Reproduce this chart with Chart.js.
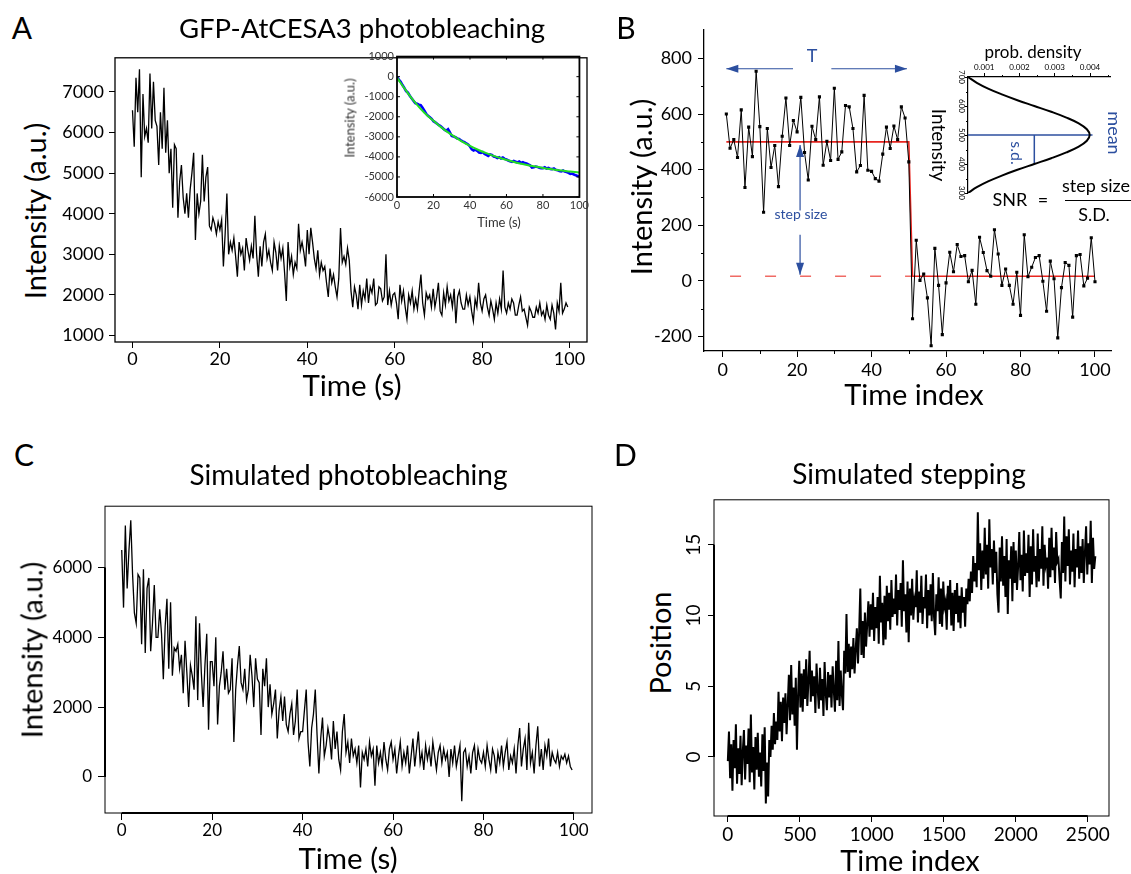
<!DOCTYPE html>
<html>
<head>
<meta charset="utf-8">
<script src="https://cdn.jsdelivr.net/npm/chart.js@4.4.1/dist/chart.umd.min.js"></script>
<style>
  body { margin: 0; background: #fff; }
  #fig { position: relative; width: 1131px; height: 874px; overflow: hidden; background: #fff; }
  canvas { position: absolute; }
  .t { position: absolute; white-space: nowrap; line-height: 1; transform: translate(-50%, -50%);
       font-family: Lato, "Open Sans", sans-serif; color: #000; }
  .up { transform: translate(-50%, -50%) rotate(-90deg); }
  .down { transform: translate(-50%, -50%) rotate(90deg); }
  .blue { color: #2c4f9f; }
  .grey { color: #333; }
</style>
</head>
<body>
<div id="fig">
  <canvas id="chartA"></canvas>
  <canvas id="insetA"></canvas>
  <canvas id="chartB"></canvas>
  <canvas id="insetB"></canvas>
  <canvas id="chartC"></canvas>
  <canvas id="chartD"></canvas>

  <!-- panel A -->
  <div class="t" style="left:22px;top:27px;font-size:30px">A</div>
  <div class="t" style="left:362px;top:27.5px;font-size:27.5px">GFP-AtCESA3 photobleaching</div>
  <div class="t" style="left:352px;top:385px;font-size:29.5px">Time (s)</div>
  <div class="t up" style="left:34px;top:211px;font-size:29px">Intensity (a.u.)</div>
  <div class="t up grey" style="left:350px;top:118px;font-size:13px">Intensity (a.u.)</div>
  <div class="t grey" style="left:499px;top:222px;font-size:13px">Time (s)</div>

  <!-- panel B -->
  <div class="t" style="left:626px;top:27px;font-size:30px">B</div>
  <div class="t up" style="left:640px;top:187px;font-size:29px">Intensity (a.u.)</div>
  <div class="t" style="left:914px;top:393px;font-size:29px">Time index</div>
  <div class="t blue" style="left:812px;top:54.5px;font-size:18px">T</div>
  <div class="t blue" style="left:801px;top:214px;font-size:14px">step size</div>
  <div class="t" style="left:1033px;top:51px;font-size:17px">prob. density</div>
  <div class="t down" style="left:939px;top:145px;font-size:19px">Intensity</div>
  <div class="t down blue" style="left:1115px;top:132.5px;font-size:18px">mean</div>
  <div class="t down blue" style="left:1017px;top:152.5px;font-size:16px">s.d.</div>
  <div class="t" style="left:1010px;top:199px;font-size:18px">SNR</div>
  <div class="t" style="left:1043px;top:199px;font-size:18px">=</div>
  <div class="t" style="left:1096px;top:185px;font-size:18px">step size</div>
  <div class="t" style="left:1094px;top:214px;font-size:18px">S.D.</div>
  <div style="position:absolute;left:1065px;top:200px;width:66px;border-top:1.2px solid #000"></div>

  <!-- panel C -->
  <div class="t" style="left:24px;top:454px;font-size:30px">C</div>
  <div class="t" style="left:348.5px;top:474px;font-size:28px">Simulated photobleaching</div>
  <div class="t" style="left:348px;top:857.5px;font-size:29.5px">Time (s)</div>
  <div class="t up" style="left:30.5px;top:650px;font-size:29px">Intensity (a.u.)</div>

  <!-- panel D -->
  <div class="t" style="left:625.5px;top:454px;font-size:30px">D</div>
  <div class="t" style="left:909px;top:473px;font-size:28px">Simulated stepping</div>
  <div class="t" style="left:910px;top:859px;font-size:29px">Time index</div>
  <div class="t up" style="left:659px;top:643px;font-size:29px">Position</div>
</div>

<script>
// ---- A: measured GFP-AtCESA3 trace, one frame every 0.4 s ----
const gfpStep = 0.4;
const gfpIntensity = [
  6550, 5650, 7350, 6500, 7560, 4900, 6950, 5900, 6100, 5750,
  7450, 6100, 7250, 6300, 6150, 5200, 6500, 5600, 7100, 5500,
  6300, 5000, 5600, 4150, 5700, 5600, 3900, 4800, 5200, 4400,
  4000, 4500, 3900, 4600, 5000, 5500, 3350, 4500, 4000, 4300,
  5450, 4300, 4900, 5150, 3700, 3600, 3900, 3750, 3500, 3800,
  3600, 3850, 2700, 3500, 4500, 3000, 3300, 3100, 3400, 2950,
  2450, 3300, 3000, 3150, 2600, 3400, 3100, 2850, 3200, 2900,
  3950, 3000, 2450, 3200, 2700, 3300, 3500, 2900, 3100, 2800,
  2600, 3300, 3050, 2600, 3200, 2900, 3150, 2550, 1850, 3300,
  2700, 2950, 2500, 2800, 2650, 3750, 3100, 3300, 3050, 2700,
  3600, 3000, 3650, 3300, 2900, 2650, 3100, 2500, 2800, 2600,
  2700, 2300, 1950, 2650, 2300, 2500, 2200, 1950, 2400, 3650,
  2800, 2950, 2750, 3150, 2850, 2100, 1700, 2200, 2000, 1650,
  2250, 1750, 2100, 1900, 2400, 1800, 2200, 2050, 2400, 1750,
  1800, 2200, 2150, 1850, 1950, 3000, 1750, 2100, 1750, 2000,
  2050, 1800, 1400, 2250, 1850, 2100, 1700, 1400, 2000, 1800,
  2100, 1650, 1900, 1650, 2100, 2500, 1800, 1500, 2050, 1900,
  2000, 1700, 2150, 1700, 1950, 2300, 1600, 1500, 2050, 1750,
  2200, 1850, 2000, 1700, 2150, 1300, 1950, 2100, 1800, 1650,
  1650, 2000, 1750, 1950, 1600, 1350, 1900, 1700, 2300, 1800,
  1600, 1900, 2000, 1700, 1500, 1850, 1650, 1400, 1800, 1550,
  1900, 1650, 2600, 1700, 1550, 1800, 1650, 1900, 1800, 1500,
  1500, 1750, 1950, 1600, 1650, 1450, 1250, 1700, 1600, 1450,
  1450, 1700, 1550, 1800, 1500, 1600, 1400, 1750, 1500, 1400,
  1750, 1550, 1150, 1800, 1600, 2300, 1550, 1650, 1800, 1700
];
const aTimeTicks = [0, 20, 40, 60, 80, 100];
const aIntensityTicks = [1000, 2000, 3000, 4000, 5000, 6000, 7000];

// inset: background-corrected trace (1 s) and exponential fit
const insetTrace = [
  0, -150, -250, -420, -560, -720, -800, -950, -1080, -1200,
  -1320, -1350, -1400, -1420, -1550, -1700, -1850, -1950, -2020, -2100,
  -2220, -2280, -2350, -2420, -2480, -2560, -2640, -2700, -2620, -2780,
  -2950, -2980, -3020, -3080, -3100, -3170, -3230, -3260, -3330, -3380,
  -3480, -3620, -3680, -3640, -3700, -3780, -3800, -3760, -3850, -3900,
  -3950, -3880, -3900, -3980, -4000, -4060, -4020, -4080, -4030, -4100,
  -4130, -4180, -4220, -4250, -4200, -4240, -4280, -4230, -4300, -4260,
  -4310, -4330, -4380, -4420, -4530, -4520, -4480, -4500, -4540, -4560,
  -4560, -4520, -4580, -4550, -4600, -4610, -4580, -4640, -4660, -4700,
  -4720, -4680, -4730, -4760, -4800, -4850, -4830, -4880, -4920, -4950, -4980
];
const fitTimes = [0, 5, 10, 15, 20, 25, 30, 35, 40, 45, 50, 55, 60, 65, 70, 75, 80, 85, 90, 95, 100];
const fitValues = [-50, -700, -1300, -1800, -2200, -2580, -2900, -3200, -3450, -3670, -3850,
  -4010, -4150, -4280, -4380, -4470, -4550, -4620, -4680, -4730, -4780];
const insetTimeTicks = [0, 20, 40, 60, 80, 100];
const insetIntensityTicks = [-6000, -5000, -4000, -3000, -2000, -1000, 0, 1000];

// ---- B: single step, time index 1..100 ----
const stepTrace = [
  600, 477, 508, 444, 615, 336, 553, 447, 754, 555,
  247, 548, 408, 487, 339, 520, 658, 487, 577, 536,
  660, 462, 363, 556, 508, 662, 416, 502, 433, 693,
  437, 464, 631, 626, 548, 392, 415, 667, 398, 394,
  368, 359, 456, 553, 476, 557, 508, 626, 586, 428,
  -136, 146, 2, 25, -61, -233, 117, -16, -193, -7,
  103, 33, 131, 88, 91, -3, 38, -84, 157, 102,
  37, 17, 184, 97, -16, 43, -16, -84, 31, -124,
  166, 15, 49, 84, 91, -1, -109, 71, 8, -205,
  -24, 66, 56, -130, 91, 95, -18, 10, 155, -3
];
const fitStepTimes = [1, 50, 51, 100];
const fitStepLevels = [500, 500, 17, 17];
const baseTimes = [2, 51];
const baseLevels = [17, 17];
const bTimeTicks = [0, 20, 40, 60, 80, 100];
const bIntensityTicks = [-200, 0, 200, 400, 600, 800];
const bMinorTime = [10, 30, 50, 70, 90];
const bMinorIntensity = [-100, 100, 300, 500, 700];
// annotation arrows, in data units
const dwellLevel = 763;
const dwellLeft = [18.9, 1];
const dwellRight = [29.2, 49.5];
const stepArrowTime = 20.8;
const stepArrowUp = [253, 489];
const stepArrowDown = [166, 22];

// noise distribution of the plateau
const gaussIntensity = [300, 320, 340, 360, 380, 400, 420, 440, 460, 480, 500,
  520, 540, 560, 580, 600, 620, 640, 660, 680, 700];
const gaussDensity = [0.00054, 0.00079, 0.00111, 0.00150, 0.00194, 0.00242, 0.00290,
  0.00333, 0.00368, 0.00391, 0.00399, 0.00391, 0.00368, 0.00333, 0.00290, 0.00242,
  0.00194, 0.00150, 0.00111, 0.00079, 0.00054];
const meanLine = { density: [0.00054, 0.00407], intensity: [500, 500] };
const sdLine = { density: [0.00242, 0.00242], intensity: [500, 400] };
const densityTicks = [0.001, 0.002, 0.003, 0.004];
const densityMinor = [0.0015, 0.0025, 0.0035, 0.0045];
const gaussIntensityTicks = [300, 400, 500, 600, 700];
const gaussIntensityMinor = [350, 450, 550, 650];

// ---- C: simulated photobleaching, 0.4 s per sample ----
const simStep = 0.4;
const simIntensity = [
  6500, 4850, 7200, 5400, 6500, 7350, 5800, 4700, 4400, 5800,
  5700, 3800, 5950, 3550, 5400, 5700, 3600, 4400, 5500, 4000,
  4000, 4800, 4100, 2800, 4300, 5100, 3100, 5000, 2900, 3700,
  3600, 3800, 3100, 3500, 2400, 3900, 3000, 2000, 3200, 2900,
  2500, 4600, 2200, 4400, 3000, 2000, 3200, 4100, 1350, 3300,
  3300, 2600, 4000, 1500, 2600, 3000, 3600, 2500, 3100, 2400,
  2500, 3400, 1000, 2500, 3200, 3750, 2700, 2500, 3100, 2200,
  2500, 3500, 2900, 2000, 3400, 2800, 2700, 1200, 3100, 2600,
  3400, 2000, 2650, 1800, 2100, 2500, 1100, 1900, 2300, 1600,
  2300, 1500, 1300, 1800, 2100, 1200, 1600, 2500, 1100, 1300,
  1300, 1900, 2500, 1000, 300, 1400, 1800, 2500, 1200, 100,
  1100, 1700, 600, 900, 1400, 1100, 500, 1600, 800, 1300,
  500, 200, 1300, 1800, 700, 1000, 400, 1100, 600, 800,
  400, 900, -300, 700, 500, 800, 300, 1000, 600, 800,
  -250, 900, 400, 700, 300, 1000, 500, 200, 800, 1000,
  500, 800, 100, 600, 1000, 300, 700, 400, 900, 100,
  600, 1100, 300, 800, 1300, 400, 700, 200, 900, 500,
  800, 300, 1000, 600, 200, 700, 900, 400, 800, 500,
  700, 0, 800, 400, 900, 300, 600, 900, -700, 700,
  800, 300, 600, 100, 700, 900, 200, 800, 500, 400,
  700, 300, 900, 500, 200, 800, 600, 100, 700, 400,
  900, 300, 700, 1000, 200, 600, 400, 800, 100, 900,
  1400, 300, 800, 1100, 200, 1550, 400, 700, 100, 900,
  1450, 300, 800, 200, 900, 600, 1100, 300, 700, 500,
  400, 700, 300, 600, 500, 650, 400, 600, 300, 200
];
const cTimeTicks = [0, 20, 40, 60, 80, 100];
const cIntensityTicks = [0, 2000, 4000, 6000];

// ---- D: simulated stepping, every 8th time index from 1 ----
const posFirst = 1;
const posStride = 8;
const position = [
  -0.3, 1.8, -1.5, 0.9, -2.4, 1.2, -0.8, 2.3, -1.9, 0.6,
  -1.2, 1.5, -2.0, 0.4, 1.9, -1.6, 0.8, -0.5, 2.0, -1.8,
  3.0, -1.1, 0.7, -2.3, 1.4, -0.9, 1.7, -1.4, 0.3, -2.1,
  1.6, -1.0, 2.1, -3.3, -0.4, -2.8, 1.2, 0.0, 2.2, 0.5,
  3.1, 0.9, 2.5, 1.2, 4.6, 1.8, 3.9, 1.1, 4.2, 2.4,
  4.5, 1.6, 3.7, 5.8, 2.6, 6.5, 3.0, 4.9, 2.2, 5.6,
  0.5, 4.4, 6.8, 3.5, 5.9, 3.2, 6.2, 4.1, 6.9, 3.6,
  5.4, 7.5, 3.9, 6.1, 4.3, 5.7, 3.1, 6.6, 4.8, 3.4,
  6.3, 4.0, 5.5, 2.9, 6.7, 4.5, 3.3, 6.0, 4.2, 5.8,
  3.5, 6.4, 4.7, 3.2, 6.8, 4.0, 8.2, 3.6, 6.1, 4.4,
  3.3, 7.5, 5.9, 10.1, 6.0, 8.0, 5.6, 7.8, 6.2, 8.4,
  5.9, 7.6, 9.1, 6.6, 8.9, 11.9, 7.2, 9.6, 7.0, 10.2,
  7.8, 9.4, 11.0, 8.5, 10.8, 9.0, 11.6, 8.2, 10.6, 9.1,
  11.3, 8.0, 12.8, 9.5, 10.9, 7.9, 11.4, 8.3, 12.1, 9.6,
  11.6, 9.0, 12.5, 9.9, 11.2, 10.1, 12.9, 9.3, 11.8, 10.4,
  12.3, 9.2, 13.9, 10.3, 11.5, 8.8, 12.4, 8.1, 11.9, 10.0,
  12.6, 9.7, 11.1, 10.6, 13.2, 9.5, 11.7, 10.2, 12.8, 9.4,
  11.3, 10.5, 12.9, 9.1, 11.8, 10.0, 12.2, 9.6, 13.0, 9.9,
  8.6, 11.5, 10.3, 12.7, 9.4, 11.9, 9.2, 12.4, 10.6, 11.0,
  9.0, 12.1, 10.4, 12.5, 9.3, 11.6, 8.9, 11.8, 10.1, 12.3,
  9.5, 11.4, 9.1, 12.0, 10.2, 11.3, 9.2, 11.9, 10.8, 12.6,
  11.0, 13.1, 11.6, 14.2, 12.4, 13.7, 12.0, 17.3, 13.2, 15.1,
  11.8, 14.6, 12.6, 16.2, 12.9, 15.0, 11.9, 16.8, 13.4, 14.7,
  12.2, 15.3, 13.0, 14.5, 11.5, 10.2, 14.8, 12.4, 15.6, 12.1,
  14.2, 11.3, 15.4, 10.1, 13.9, 12.6, 14.9, 11.0, 15.2, 12.3,
  14.6, 11.8, 13.5, 15.9, 12.5, 14.3, 11.7, 16.0, 12.8, 14.4,
  13.0, 15.7, 11.3, 14.9, 12.2, 16.1, 13.1, 14.2, 12.0, 15.8,
  12.4, 14.7, 13.3, 16.3, 12.1, 15.0, 13.6, 14.1, 11.9, 15.5,
  12.7, 16.2, 13.2, 14.8, 12.3, 15.9, 13.8, 14.0, 12.5, 11.2,
  15.2, 13.0, 17.0, 12.4, 15.6, 13.5, 16.1, 12.2, 14.6, 13.1,
  15.8, 12.0, 14.7, 13.4, 16.0, 12.6, 14.9, 13.0, 15.4, 12.3,
  14.5, 16.3, 12.9, 15.1, 13.6, 16.7, 12.3, 15.5, 13.3, 14.2
];
const dTimeTicks = [0, 500, 1000, 1500, 2000, 2500];
const dPositionTicks = [0, 5, 10, 15];

const BLUE = '#2c4f9f';

Chart.defaults.font.family = "Lato, 'Open Sans', sans-serif";
Chart.defaults.color = '#000';
Chart.defaults.animation = false;
Chart.defaults.events = [];
Chart.defaults.plugins.legend.display = false;
Chart.defaults.plugins.tooltip.enabled = false;
Chart.defaults.elements.point.radius = 0;
Chart.defaults.elements.line.tension = 0;

// box around the plot area; optional heavier axis segments between end ticks
const framePlugin = {
  id: 'frame',
  afterDatasetsDraw(chart, args, o) {
    if (!o || !o.width) return;
    const { ctx, chartArea: a, scales } = chart;
    ctx.save();
    ctx.strokeStyle = '#000';
    ctx.lineWidth = o.width;
    ctx.strokeRect(a.left, a.top, a.right - a.left, a.bottom - a.top);
    if (o.axisWidth) {
      const xs = scales.x.ticks, ys = scales.y.ticks;
      ctx.lineWidth = o.axisWidth;
      ctx.beginPath();
      ctx.moveTo(scales.x.getPixelForValue(xs[0].value), a.bottom);
      ctx.lineTo(scales.x.getPixelForValue(xs[xs.length - 1].value), a.bottom);
      ctx.moveTo(a.left, scales.y.getPixelForValue(ys[0].value));
      ctx.lineTo(a.left, scales.y.getPixelForValue(ys[ys.length - 1].value));
      ctx.stroke();
    }
    ctx.restore();
  }
};

// short unlabelled ticks between the major ones
const minorTicksPlugin = {
  id: 'minorTicks',
  afterDraw(chart, args, o) {
    if (!o || !o.axes) return;
    const { ctx, chartArea: a } = chart;
    ctx.save();
    ctx.strokeStyle = '#000';
    ctx.lineWidth = 1;
    ctx.beginPath();
    Object.entries(o.axes).forEach(([id, values]) => {
      const s = chart.scales[id];
      values.forEach(v => {
        const p = Math.round(s.getPixelForValue(v)) + 0.5;
        if (s.position === 'bottom') { ctx.moveTo(p, a.bottom); ctx.lineTo(p, a.bottom + o.len); }
        else if (s.position === 'top') { ctx.moveTo(p, a.top); ctx.lineTo(p, a.top - o.len); }
        else { ctx.moveTo(a.left, p); ctx.lineTo(a.left - o.len, p); }
      });
    });
    ctx.stroke();
    ctx.restore();
  }
};

// ticks pointing into the plot on all four sides
const innerTicksPlugin = {
  id: 'innerTicks',
  afterDraw(chart, args, o) {
    if (!o || !o.len) return;
    const { ctx, chartArea: a, scales } = chart;
    ctx.save();
    ctx.strokeStyle = '#000';
    ctx.lineWidth = 1;
    ctx.beginPath();
    scales.x.ticks.forEach(t => {
      const p = scales.x.getPixelForValue(t.value);
      ctx.moveTo(p, a.bottom); ctx.lineTo(p, a.bottom - o.len);
      ctx.moveTo(p, a.top); ctx.lineTo(p, a.top + o.len);
    });
    scales.y.ticks.forEach(t => {
      const p = scales.y.getPixelForValue(t.value);
      ctx.moveTo(a.left, p); ctx.lineTo(a.left + o.len, p);
      ctx.moveTo(a.right, p); ctx.lineTo(a.right - o.len, p);
    });
    ctx.stroke();
    ctx.restore();
  }
};

// y tick labels written along the axis
const sideLabelsPlugin = {
  id: 'sideLabels',
  afterDraw(chart, args, o) {
    if (!o || !o.values) return;
    const { ctx, chartArea: a } = chart;
    const s = chart.scales.y;
    ctx.save();
    ctx.fillStyle = '#000';
    ctx.font = o.size + "px Lato, 'Open Sans', sans-serif";
    ctx.textAlign = 'center';
    ctx.textBaseline = 'middle';
    o.values.forEach(v => {
      ctx.save();
      ctx.translate(a.left - o.offset, s.getPixelForValue(v));
      ctx.rotate(o.angle);
      ctx.fillText(String(v), 0, 0);
      ctx.restore();
    });
    ctx.restore();
  }
};

// arrowhead at the last point of datasets flagged with arrowHead
const arrowPlugin = {
  id: 'arrowHeads',
  afterDatasetsDraw(chart) {
    const { ctx } = chart;
    chart.data.datasets.forEach((ds, i) => {
      if (!ds.arrowHead) return;
      const pts = chart.getDatasetMeta(i).data;
      const tip = pts[pts.length - 1], from = pts[pts.length - 2];
      const ang = Math.atan2(tip.y - from.y, tip.x - from.x);
      ctx.save();
      ctx.translate(tip.x, tip.y);
      ctx.rotate(ang);
      ctx.fillStyle = ds.borderColor;
      ctx.beginPath();
      ctx.moveTo(0, 0);
      ctx.lineTo(-12, -4);
      ctx.lineTo(-12, 4);
      ctx.closePath();
      ctx.fill();
      ctx.restore();
    });
  }
};

Chart.register(framePlugin, minorTicksPlugin, innerTicksPlugin, sideLabelsPlugin, arrowPlugin);

function place(id, box, pad) {
  const c = document.getElementById(id);
  c.width = box.r - box.l + pad.l + pad.r;
  c.height = box.b - box.t + pad.t + pad.b;
  c.style.left = (box.l - pad.l) + 'px';
  c.style.top = (box.t - pad.t) + 'px';
  return c;
}

function axis(pos, min, max, ticks, o) {
  return {
    type: 'linear', position: pos, min, max,
    afterBuildTicks: s => { s.ticks = ticks.map(value => ({ value })); },
    afterFit: s => { if (s.isHorizontal()) s.height = o.size; else s.width = o.size; },
    grid: { drawOnChartArea: false, drawTicks: o.tick > 0, tickLength: o.tick || 0, tickColor: '#000', tickWidth: 1 },
    border: { display: !!o.line, color: '#000', width: o.line || 1 },
    ticks: {
      padding: o.pad, color: o.color || '#000', font: { size: o.font || 18 },
      maxRotation: 0, minRotation: 0, autoSkip: false,
      callback: o.hide ? () => '' : v => String(v)
    }
  };
}

const xy = (xs, ys) => xs.map((x, i) => ({ x, y: ys[i] }));

// A
const boxA = { l: 115, t: 48, r: 587, b: 342 }, padA = { l: 60, t: 6, r: 20, b: 30 };
new Chart(place('chartA', boxA, padA), {
  type: 'line',
  data: { datasets: [{
    data: gfpIntensity.map((v, i) => ({ x: i * gfpStep, y: v })),
    borderColor: '#000', borderWidth: 1.3
  }] },
  options: {
    responsive: false, devicePixelRatio: 1,
    layout: { padding: { top: padA.t, right: padA.r } },
    scales: {
      x: axis('bottom', -4, 104, aTimeTicks, { size: padA.b, tick: 6, pad: 0 }),
      y: axis('left', 840, 7840, aIntensityTicks, { size: padA.l, tick: 6, pad: 5 })
    },
    plugins: { frame: { width: 1.3 } }
  }
});

const boxAi = { l: 397, t: 55, r: 581, b: 197 }, padAi = { l: 40, t: 8, r: 10, b: 18 };
new Chart(place('insetA', boxAi, padAi), {
  type: 'line',
  data: { datasets: [
    { data: xy(fitTimes, fitValues), borderColor: '#22dd22', borderWidth: 2, tension: 0.4 },
    { data: insetTrace.map((v, i) => ({ x: i, y: v })), borderColor: '#0000ff', borderWidth: 2.6 }
  ] },
  options: {
    responsive: false, devicePixelRatio: 1,
    layout: { padding: { top: padAi.t, right: padAi.r } },
    scales: {
      x: axis('bottom', 0, 100, insetTimeTicks, { size: padAi.b, tick: 0, pad: 2, font: 11, color: '#333' }),
      y: axis('left', -6000, 1000, insetIntensityTicks, { size: padAi.l, tick: 0, pad: 3, font: 11, color: '#333' })
    },
    plugins: { frame: { width: 1.8 }, innerTicks: { len: 3 } }
  }
});

// B
const boxB = { l: 704, t: 17, r: 1111, b: 351 }, padB = { l: 60, t: 4, r: 8, b: 30 };
new Chart(place('chartB', boxB, padB), {
  type: 'line',
  data: { datasets: [
    { data: stepTrace.map((v, i) => ({ x: i + 1, y: v })), borderColor: '#000', borderWidth: 1,
      pointRadius: 2.2, pointStyle: 'rect', pointBackgroundColor: '#000', pointBorderWidth: 0 },
    { data: xy(fitStepTimes, fitStepLevels), borderColor: '#e8251f', borderWidth: 1.6 },
    { data: xy(baseTimes, baseLevels), borderColor: '#f06a64', borderWidth: 1.6, borderDash: [11, 24] },
    { data: xy(dwellLeft, [dwellLevel, dwellLevel]), borderColor: BLUE, borderWidth: 1.2, arrowHead: true },
    { data: xy(dwellRight, [dwellLevel, dwellLevel]), borderColor: BLUE, borderWidth: 1.2, arrowHead: true },
    { data: xy([stepArrowTime, stepArrowTime], stepArrowUp), borderColor: BLUE, borderWidth: 1.2, arrowHead: true },
    { data: xy([stepArrowTime, stepArrowTime], stepArrowDown), borderColor: BLUE, borderWidth: 1.2, arrowHead: true }
  ] },
  options: {
    responsive: false, devicePixelRatio: 1,
    layout: { padding: { top: padB.t, right: padB.r } },
    scales: {
      x: axis('bottom', -5, 104.3, bTimeTicks, { size: padB.b, tick: 6, pad: 2, line: 1.3 }),
      y: axis('left', -252, 903, bIntensityTicks, { size: padB.l, tick: 6, pad: 6, line: 1.3 })
    },
    plugins: { minorTicks: { len: 3, axes: { x: bMinorTime, y: bMinorIntensity } } }
  }
});

const boxBi = { l: 968, t: 77, r: 1110, b: 193 }, padBi = { l: 14, t: 16, r: 6, b: 8 };
new Chart(place('insetB', boxBi, padBi), {
  type: 'line',
  data: { datasets: [
    { data: xy(gaussDensity, gaussIntensity), borderColor: '#000', borderWidth: 2, tension: 0.4 },
    { data: xy(meanLine.density, meanLine.intensity), borderColor: BLUE, borderWidth: 1.5 },
    { data: xy(sdLine.density, sdLine.intensity), borderColor: BLUE, borderWidth: 1.5 }
  ] },
  options: {
    responsive: false, devicePixelRatio: 1,
    layout: { padding: { right: padBi.r, bottom: padBi.b } },
    scales: {
      x: axis('top', 0.00054, 0.004566, densityTicks, { size: padBi.t, tick: 4, pad: 1, font: 8, line: 1.2 }),
      y: axis('left', 300, 700, gaussIntensityTicks, { size: padBi.l, tick: 3, pad: 0, font: 8, line: 1.2, hide: true })
    },
    plugins: {
      minorTicks: { len: 2, axes: { x: densityMinor, y: gaussIntensityMinor } },
      sideLabels: { values: gaussIntensityTicks, angle: Math.PI / 2, offset: 6, size: 8 }
    }
  }
});

// C
const boxC = { l: 105, t: 496, r: 592, b: 813 }, padC = { l: 60, t: 6, r: 20, b: 30 };
new Chart(place('chartC', boxC, padC), {
  type: 'line',
  data: { datasets: [{
    data: simIntensity.map((v, i) => ({ x: i * simStep, y: v })),
    borderColor: '#000', borderWidth: 1.3
  }] },
  options: {
    responsive: false, devicePixelRatio: 1,
    layout: { padding: { top: padC.t, right: padC.r } },
    scales: {
      x: axis('bottom', -3.7, 104, cTimeTicks, { size: padC.b, tick: 7, pad: 0, font: 17 }),
      y: axis('left', -1034, 7755, cIntensityTicks, { size: padC.l, tick: 7, pad: 6, font: 17 })
    },
    plugins: { frame: { width: 1, axisWidth: 2 } }
  }
});

// D
const boxD = { l: 714, t: 495, r: 1109, b: 816 }, padD = { l: 30, t: 6, r: 20, b: 30 };
new Chart(place('chartD', boxD, padD), {
  type: 'line',
  data: { datasets: [{
    data: position.map((v, i) => ({ x: posFirst + i * posStride, y: v })),
    borderColor: '#000', borderWidth: 2
  }] },
  options: {
    responsive: false, devicePixelRatio: 1,
    layout: { padding: { top: padD.t, right: padD.r } },
    scales: {
      x: axis('bottom', -95, 2648, dTimeTicks, { size: padD.b, tick: 6, pad: 1.5, font: 19 }),
      y: axis('left', -4.18, 18.18, dPositionTicks, { size: padD.l, tick: 6, pad: 0, hide: true })
    },
    plugins: {
      frame: { width: 1, axisWidth: 2 },
      sideLabels: { values: dPositionTicks, angle: -Math.PI / 2, offset: 20, size: 19 }
    }
  }
});
</script>
</body>
</html>
